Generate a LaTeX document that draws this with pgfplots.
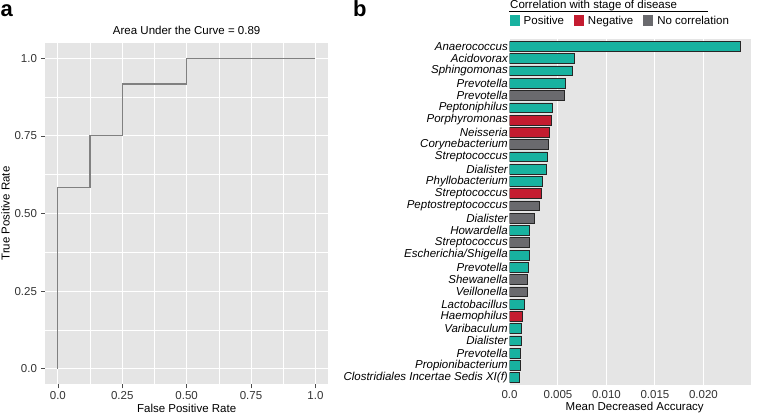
\documentclass[border=0pt]{standalone}
\usepackage{fontspec}
\setmainfont{Liberation Sans}
\usepackage{pgfplots}
\pgfplotsset{compat=1.18}

\definecolor{panelbg}{RGB}{229,229,229}
\definecolor{posc}{RGB}{24,178,160}
\definecolor{negc}{RGB}{196,28,48}
\definecolor{nocorc}{RGB}{106,106,110}
\definecolor{rocline}{RGB}{128,128,128}

\newcommand{\txt}{\fontsize{11.5}{13.5}\selectfont}

\pgfplotsset{
  ggbase/.style={
    scale only axis,
    anchor=south west,
    axis background/.style={fill=panelbg},
    axis line style={draw=none},
    major grid style={white, line width=1pt},
    minor grid style={white, line width=0.5pt},
    /pgf/number format/assume math mode=true,
    tick label style={font=\txt, text=black!80},
    label style={font=\txt},
    scaled ticks=false,
  },
}

\begin{document}
\begin{tikzpicture}
\useasboundingbox (0pt,0pt) rectangle (760pt,415pt);

% panel a: ROC curve
\begin{axis}[ggbase,
  at={(45pt,30.7pt)}, width=283.3pt, height=341.6pt,
  xmin=-0.05, xmax=1.05, ymin=-0.05, ymax=1.05,
  xtick={0,0.25,0.5,0.75,1}, xticklabels={0.0,0.25,0.50,0.75,1.0},
  ytick={0,0.25,0.5,0.75,1}, yticklabels={0.0,0.25,0.50,0.75,1.0},
  minor tick num=1,
  grid=both,
  tick align=outside, xtick pos=bottom, ytick pos=left,
  major tick length=4pt, minor tick length=0pt,
  tick style={black!70, line width=0.6pt},
  yticklabel style={xshift=-0.5pt},
  xlabel={False Positive Rate},
  ylabel={True Positive Rate},
  xlabel style={at={(axis description cs:0.5,-0.084)}, anchor=base},
  ylabel style={at={(axis description cs:-0.1253,0.5)}, anchor=base, rotate=0},
  title={Area Under the Curve = 0.89},
  title style={font=\txt, at={(axis description cs:0.5,1)}, anchor=base, yshift=2.4pt},
]
\addplot[rocline, line width=1.2pt] coordinates {
  (0,0) (0,0.5833) (0.125,0.5833) (0.125,0.75) (0.25,0.75)
  (0.25,0.9167) (0.5,0.9167) (0.5,1) (1,1)
};
\end{axis}

% panel b: variable importance
\begin{axis}[ggbase,
  at={(509.5pt,30pt)}, width=241pt, height=346pt,
  xmin=0, xmax=0.02485, ymin=0.4, ymax=28.6,
  xtick={0,0.005,0.01,0.015,0.02,0.025},
  xticklabels={0.0,0.005,0.010,0.015,0.020,0.025},
  xmajorgrids,
  major tick length=0pt,
  ytick={1,...,28},
  yticklabels={Clostridiales Incertae Sedis XI(f),Propionibacterium,Prevotella,Dialister,Varibaculum,Haemophilus,Lactobacillus,Veillonella,Shewanella,Prevotella,Escherichia/Shigella,Streptococcus,Howardella,Dialister,Peptostreptococcus,Streptococcus,Phyllobacterium,Dialister,Streptococcus,Corynebacterium,Neisseria,Porphyromonas,Peptoniphilus,Prevotella,Prevotella,Sphingomonas,Acidovorax,Anaerococcus},
  yticklabel style={font=\txt\itshape, text=black, inner xsep=1.5pt},
  xticklabel style={yshift=-2pt},
  xlabel={Mean Decreased Accuracy},
  xlabel style={at={(axis description cs:0.5195,-0.0751)}, anchor=base},
  xbar, bar width=9.8pt, bar shift=0pt,
  legend columns=3,
  legend style={draw=none, fill=none, inner sep=0pt, font=\txt,
    at={(axis description cs:0,1.0514)}, anchor=west,
    nodes={inner xsep=4pt},
    /tikz/every even column/.append style={column sep=6pt}},
  legend image code/.code={\fill[#1, draw=none] (0pt,-4.8pt) rectangle (10pt,6.2pt);},
]
\addplot[fill=posc, draw=black!85, line width=0.6pt] coordinates {
  (0.00105,1) (0.00114,2) (0.00115,3) (0.00125,4) (0.00126,5)
  (0.00150,7) (0.00198,10) (0.00206,11) (0.00208,13) (0.00333,17)
  (0.00380,18) (0.00387,19) (0.00445,23) (0.00575,25) (0.00651,26)
  (0.00665,27) (0.02383,28)
};
\addplot[fill=negc, draw=black!85, line width=0.6pt] coordinates {
  (0.00136,6) (0.00331,16) (0.00414,21) (0.00435,22)
};
\addplot[fill=nocorc, draw=black!85, line width=0.6pt] coordinates {
  (0.00187,8) (0.00188,9) (0.00207,12) (0.00260,14) (0.00304,15)
  (0.00404,20) (0.00565,24)
};
\legend{Positive,Negative,No correlation}
\end{axis}

% legend title and panel letters
\node[anchor=base west, inner sep=0pt, font=\txt] at (510pt,406.7pt) {Correlation with stage of disease};
\draw[black, line width=0.6pt] (509pt,403.5pt) -- (708pt,403.5pt);
\node[anchor=base west, inner sep=0pt, font=\fontsize{22}{24}\selectfont\bfseries] at (0.5pt,398pt) {a};
\node[anchor=base west, inner sep=0pt, font=\fontsize{22}{24}\selectfont\bfseries] at (353pt,398pt) {b};
\end{tikzpicture}
\end{document}
